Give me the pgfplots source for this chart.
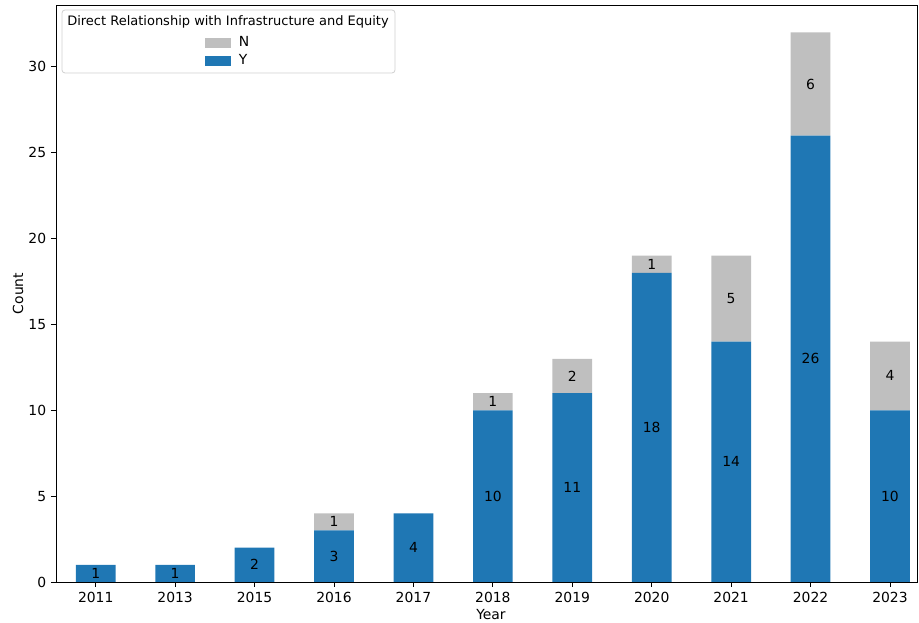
\documentclass[border=0pt]{standalone}
\usepackage{pgfplots}
\pgfplotsset{compat=1.18}
\usepackage{fontspec}
\setmainfont{DejaVu Sans}
\definecolor{myblue}{HTML}{1F77B4}
\definecolor{mygray}{HTML}{BFBFBF}
\begin{document}
\fontsize{13.9pt}{16pt}\selectfont
\begin{tikzpicture}
\useasboundingbox (-56pt,-41pt) rectangle (863pt,582pt);
% legend frame and title
\draw[rounded corners=3pt, draw=black!18, fill=white, line width=0.8pt] (6pt,509pt) rectangle (339pt,572pt);
\node[anchor=center, inner sep=0pt, font=\fontsize{13pt}{15pt}\selectfont] at (172pt,560pt) {Direct Relationship with Infrastructure and Equity};
\begin{axis}[
  at={(0pt,0pt)}, anchor=south west,
  width=861pt, height=577pt, scale only axis,
  ybar stacked, bar width=0.5,
  enlargelimits=false,
  xmin=-0.5, xmax=10.34, ymin=0, ymax=33.6,
  xtick={0,...,10},
  xticklabels={2011,2013,2015,2016,2017,2018,2019,2020,2021,2022,2023},
  ytick={0,5,...,30},
  /pgf/number format/assume math mode=true,
  tick pos=left, tick align=outside, major tick length=5pt,
  every tick/.style={black, line width=0.9pt},
  axis line style={line width=0.9pt},
  every axis x label/.style={at={(axis description cs:0.5052,0)}, anchor=center, yshift=-33pt},
  every axis y label/.style={at={(axis description cs:0,0.5)}, xshift=-38pt, rotate=90, anchor=center},
  xlabel={Year}, ylabel={Count},
  nodes near coords={\pgfmathfloatifflags{\pgfplotspointmeta}{0}{}{\pgfmathprintnumber{\pgfplotspointmeta}}},
  every node near coord/.append style={anchor=center, black},
  legend image code/.code={\draw[#1, draw=none] (0pt,-5pt) rectangle (26pt,5pt);},
  reverse legend,
  legend style={draw=none, fill=none, at={(axis description cs:0.2,0.919)}, anchor=center, row sep=2pt, column sep=6pt, legend cell align=left},
]
\addplot[fill=myblue, draw=none] coordinates {(0,1)(1,1)(2,2)(3,3)(4,4)(5,10)(6,11)(7,18)(8,14)(9,26)(10,10)};
\addlegendentry{Y}
\addplot[fill=mygray, draw=none] coordinates {(0,0)(1,0)(2,0)(3,1)(4,0)(5,1)(6,2)(7,1)(8,5)(9,6)(10,4)};
\addlegendentry{N}
\end{axis}
\end{tikzpicture}
\end{document}
